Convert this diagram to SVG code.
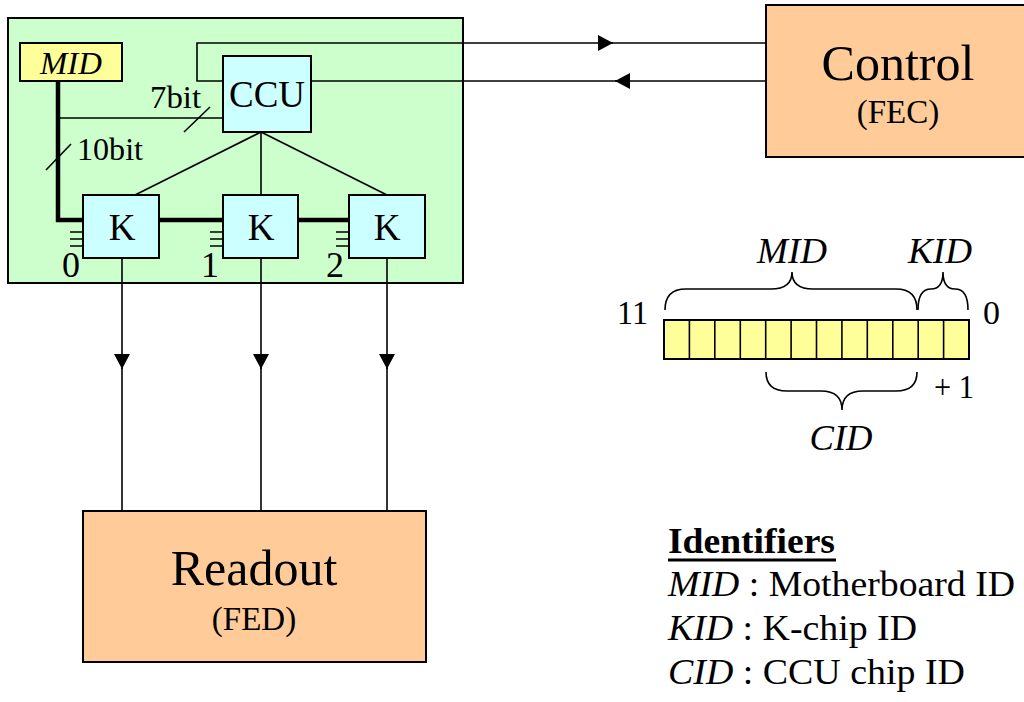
<svg xmlns="http://www.w3.org/2000/svg" width="1024" height="702" viewBox="0 0 1024 702">
<defs>
<style>
.box{stroke:#000;stroke-width:2}
.green{fill:#CCFFCC}
.cyan{fill:#CCFFFF}
.yellow{fill:#FFFF99}
.orange{fill:#FFCC99}
.ln{stroke:#000;stroke-width:1.6;fill:none}
.bus{stroke:#000;stroke-width:4.5;fill:none}
text{font-family:"Liberation Serif","Times New Roman",serif;fill:#000}
.c{text-anchor:middle}
.i{font-style:italic}
</style>
<marker id="arr" markerUnits="userSpaceOnUse" markerWidth="16" markerHeight="16" refX="15" refY="8" orient="auto" viewBox="0 0 16 16">
<path d="M0,0 L15,8 L0,16 z" fill="#000"/>
</marker>
</defs>
<rect width="1024" height="702" fill="#fff"/>

<g id="motherboard">
<rect class="box green" x="8" y="18" width="455" height="265"/>
</g>

<g id="connectors">
<path class="ln" d="M223,81 H197 V43 H613" marker-end="url(#arr)"/>
<line class="ln" x1="611" y1="43" x2="766" y2="43"/>
<line class="ln" x1="766" y1="81" x2="615" y2="81" marker-end="url(#arr)"/>
<line class="ln" x1="617" y1="81" x2="311" y2="81"/>
<path class="bus" d="M58,81 V220 H83"/>
<line class="bus" x1="159" y1="220" x2="223" y2="220"/>
<line class="bus" x1="298" y1="220" x2="349" y2="220"/>
<line class="ln" x1="58" y1="118" x2="223" y2="118"/>
<line class="ln" x1="184" y1="132" x2="210" y2="107"/>
<line class="ln" x1="46" y1="170" x2="71" y2="144"/>
<line class="ln" x1="261" y1="132" x2="135" y2="195"/>
<line class="ln" x1="261" y1="132" x2="261" y2="195"/>
<line class="ln" x1="261" y1="132" x2="387" y2="195"/>
<path class="ln" d="M70,232 H83 M70,239 H83 M70,246 H83"/>
<path class="ln" d="M210,232 H223 M210,239 H223 M210,246 H223"/>
<path class="ln" d="M336,232 H349 M336,239 H349 M336,246 H349"/>
<line class="ln" x1="122" y1="258" x2="122" y2="369" marker-end="url(#arr)"/>
<line class="ln" x1="261" y1="258" x2="261" y2="369" marker-end="url(#arr)"/>
<line class="ln" x1="387" y1="258" x2="387" y2="369" marker-end="url(#arr)"/>
<line class="ln" x1="122" y1="367" x2="122" y2="511"/>
<line class="ln" x1="261" y1="367" x2="261" y2="511"/>
<line class="ln" x1="387" y1="367" x2="387" y2="511"/>
</g>

<g id="mid">
<rect class="box yellow" x="20" y="43" width="102" height="38"/>
<text class="c i" x="71" y="74" font-size="32" textLength="62" lengthAdjust="spacingAndGlyphs">MID</text>
</g>
<g id="ccu">
<rect class="box cyan" x="223" y="56" width="88" height="76"/>
<text class="c" x="267" y="107" font-size="37" textLength="76" lengthAdjust="spacingAndGlyphs">CCU</text>
</g>
<g id="k0">
<rect class="box cyan" x="83" y="195" width="76" height="63"/>
<text class="c" x="122" y="240" font-size="37">K</text>
<text class="c" x="71" y="277" font-size="36">0</text>
</g>
<g id="k1">
<rect class="box cyan" x="223" y="195" width="75" height="63"/>
<text class="c" x="261" y="240" font-size="37">K</text>
<text class="c" x="210" y="277" font-size="36">1</text>
</g>
<g id="k2">
<rect class="box cyan" x="349" y="195" width="76" height="63"/>
<text class="c" x="387" y="240" font-size="37">K</text>
<text class="c" x="335" y="277" font-size="36">2</text>
</g>
<g id="bus-labels">
<text x="150" y="108" font-size="32" textLength="51" lengthAdjust="spacingAndGlyphs">7bit</text>
<text x="77" y="160" font-size="32" textLength="66" lengthAdjust="spacingAndGlyphs">10bit</text>
</g>

<g id="control">
<rect class="box orange" x="766" y="5" width="270" height="152"/>
<text class="c" x="898" y="80" font-size="50">Control</text>
<text class="c" x="898" y="123" font-size="33">(FEC)</text>
</g>
<g id="readout">
<rect class="box orange" x="83" y="511" width="343" height="151"/>
<text class="c" x="254" y="585" font-size="50">Readout</text>
<text class="c" x="254" y="630" font-size="33">(FED)</text>
</g>

<g id="register">
<rect class="box yellow" x="664" y="320" width="305" height="39" stroke-width="1.6"/>
<path class="ln" d="M689.4,320 V359 M714.8,320 V359 M740.3,320 V359 M765.7,320 V359 M791.1,320 V359 M816.5,320 V359 M841.9,320 V359 M867.3,320 V359 M892.8,320 V359 M918.2,320 V359 M943.6,320 V359"/>
<path class="ln" d="M665,310 Q665,289 686,289 H771 Q792,289 792,272 Q792,289 813,289 H896 Q917,289 917,310"/>
<path class="ln" d="M918,310 Q918,289 931,289 Q943,289 943,272 Q943,289 955,289 Q968,289 968,310"/>
<path class="ln" d="M766,372 Q766,391 787,391 H821 Q842,391 842,410 Q842,391 863,391 H896 Q917,391 917,372"/>
<text x="617" y="324" font-size="34" textLength="31" lengthAdjust="spacingAndGlyphs">11</text>
<text x="983" y="324" font-size="34">0</text>
<text class="c i" x="792" y="263" font-size="36" textLength="70" lengthAdjust="spacingAndGlyphs">MID</text>
<text class="c i" x="940" y="263" font-size="36" textLength="64" lengthAdjust="spacingAndGlyphs">KID</text>
<text class="c i" x="841" y="450" font-size="36" textLength="63" lengthAdjust="spacingAndGlyphs">CID</text>
<text x="934" y="398" font-size="33" textLength="40" lengthAdjust="spacingAndGlyphs">+ 1</text>
</g>

<g id="legend">
<text x="668" y="553" font-size="36" font-weight="bold" textLength="167" lengthAdjust="spacingAndGlyphs">Identifiers</text>
<line x1="668" y1="560" x2="836" y2="560" stroke="#000" stroke-width="3"/>
<text x="668" y="596" font-size="36" textLength="347" lengthAdjust="spacingAndGlyphs"><tspan font-style="italic">MID</tspan> : Motherboard ID</text>
<text x="668" y="640" font-size="36" textLength="249" lengthAdjust="spacingAndGlyphs"><tspan font-style="italic">KID</tspan> : K-chip ID</text>
<text x="668" y="684" font-size="36" textLength="297" lengthAdjust="spacingAndGlyphs"><tspan font-style="italic">CID</tspan> : CCU chip ID</text>
</g>
</svg>
